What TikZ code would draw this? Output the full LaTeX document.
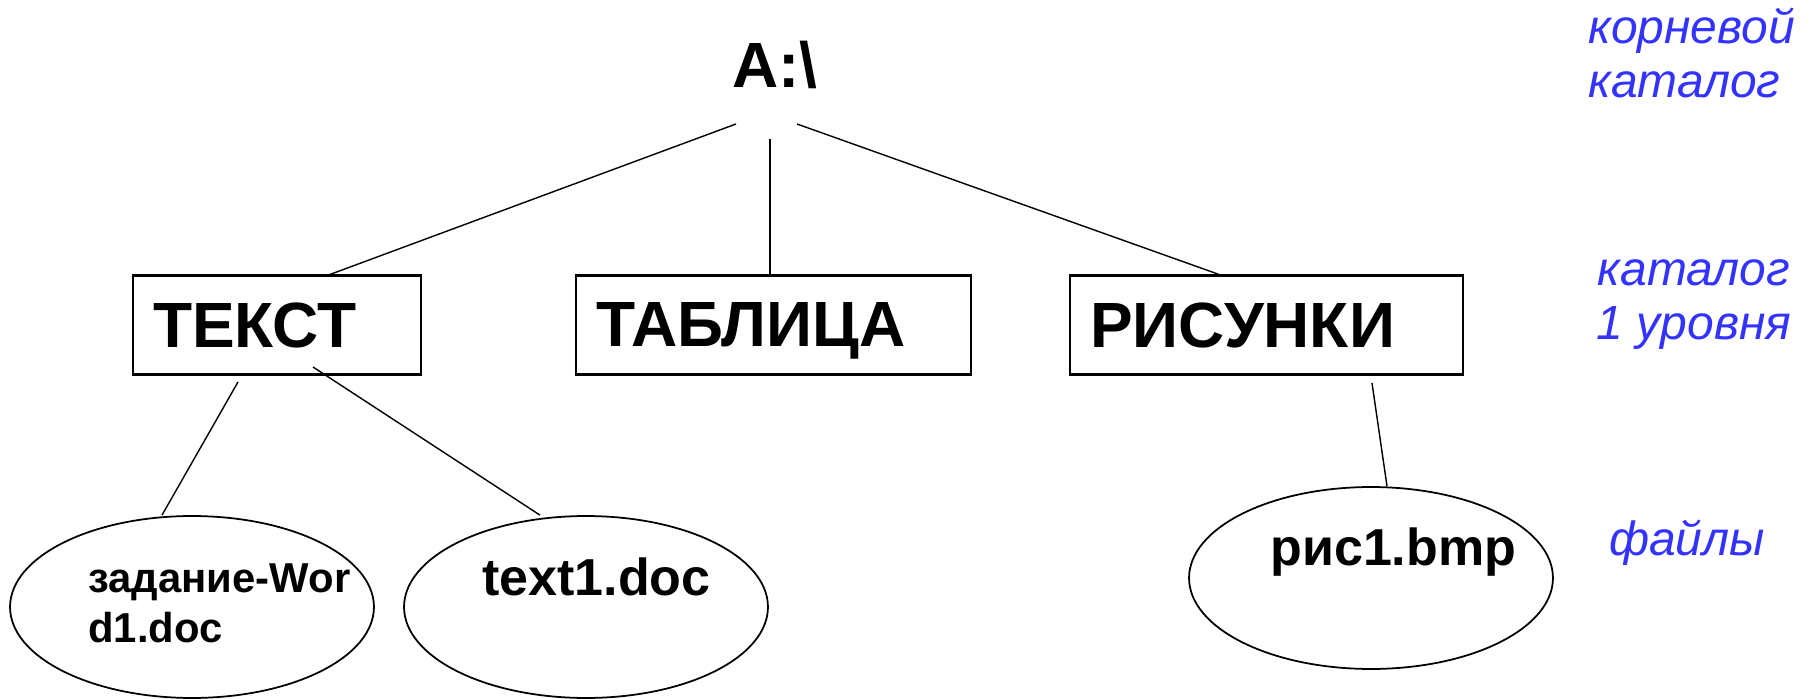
\documentclass[tikz,border=0pt]{standalone}
\usepackage{fontspec}
\setmainfont{Liberation Sans}
\usetikzlibrary{shapes.geometric}
\definecolor{noteblue}{RGB}{51,51,255}
\tikzset{
  dirbox/.style={draw, line width=1.2pt, minimum height=1.98cm, inner xsep=0.4cm,
    inner ysep=0pt, text width=#1, text depth=0pt, align=left, anchor=west,
    font=\bfseries\fontsize{36.4}{43}\selectfont},
  filebox/.style={draw, ellipse, line width=1pt, minimum width=7.28cm,
    minimum height=3.64cm, inner sep=0pt},
  fname/.style={inner sep=0pt, anchor=base west, font=\bfseries\fontsize{29.6}{35}\selectfont},
  longname/.style={inner sep=0pt, anchor=base west, align=left,
    font=\bfseries\fontsize{23.8}{27.9}\selectfont},
  note/.style={inner sep=0pt, text=noteblue, font=\itshape\fontsize{27.3}{31.3}\selectfont},
  link/.style={line width=0.8pt}
}
\begin{document}
\begin{tikzpicture}[x=0.02cm, y=-0.02cm]
\useasboundingbox (0,0) rectangle (1810,699);
% root
\node[inner sep=0pt, anchor=base west, font=\bfseries\fontsize{36.4}{43}\selectfont]
  (root) at (732,88) {A:\textbackslash};
\coordinate (r1) at (736,124);
\coordinate (r2) at (770,139);
\coordinate (r3) at (797,124);
% first level
\node[dirbox=4.96cm] (tekst) at (132,325) {ТЕКСТ};
\node[dirbox=7.1cm] (tabl) at (575,325) {ТАБЛИЦА};
\node[dirbox=7.06cm] (ris) at (1069,325) {РИСУНКИ};
\draw[link] (r1) -- (tekst.north -| 330,0);
\draw[link] (r2) -- (tabl.north -| 770,0);
\draw[link] (r3) -- (ris.north -| 1219,0);
% files
\node[filebox] (zad) at (192,607) {};
\node[filebox] (txt) at (586,607) {};
\node[filebox] (pic) at (1371,578) {};
\node[longname] (zadname) at (88,642) {задание-Wor\\d1.doc};
\node[fname] (txtname) at (482,595) {text1.doc};
\node[fname] (picname) at (1270,565) {рис1.bmp};
\coordinate (t1) at (238,382);
\coordinate (t2) at (313,367);
\coordinate (p1) at (1372,383);
\draw[link] (t1) -- (zad.north -| 162,0);
\draw[link] (t2) -- (txt.north -| 540,0);
\draw[link] (p1) -- (pic.north -| 1387,0);
% notes on the right
\node[note, align=left, anchor=base west] (lvl0) at (1588,98) {корневой\\каталог};
\node[note, align=center, anchor=base] (lvl1) at (1694,340) {каталог\\1 уровня};
\node[note, anchor=base] (lvl2) at (1687,555) {файлы};
\end{tikzpicture}
\end{document}
